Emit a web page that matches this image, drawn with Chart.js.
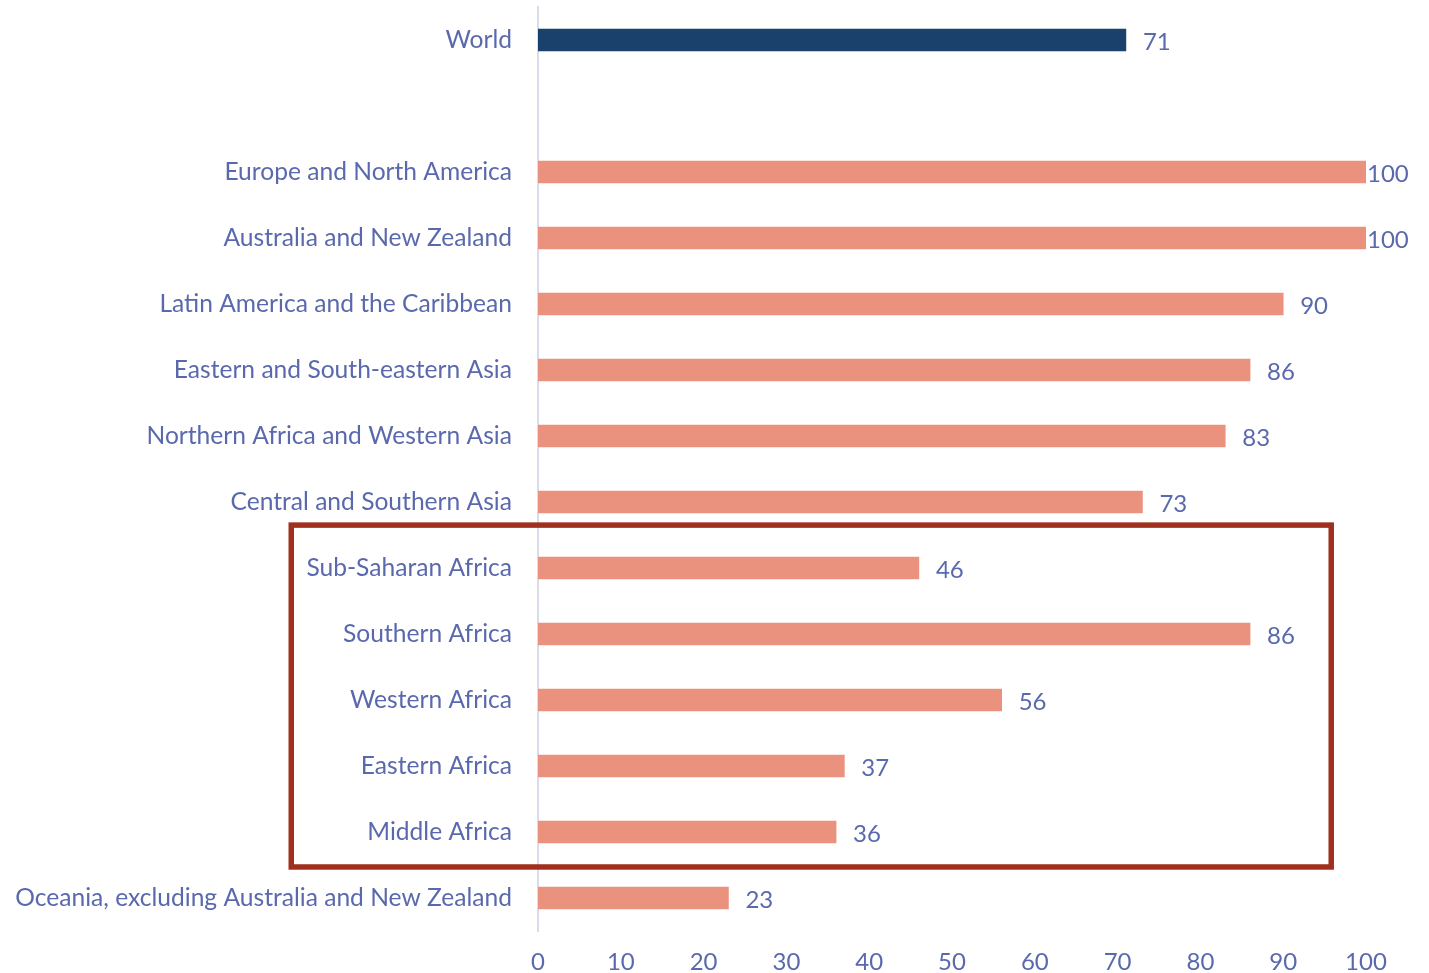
<!DOCTYPE html>
<html>
<head>
<meta charset="utf-8">
<script src="https://cdn.jsdelivr.net/npm/chart.js@4"></script>
<style>
  html, body { margin: 0; padding: 0; background: #fff; }
  #wrap { width: 1429px; height: 973px; }
</style>
</head>
<body>
<div id="wrap"><canvas id="myChart" width="1429" height="973"></canvas></div>
<script>
const regions = [
  'World', '',
  'Europe and North America', 'Australia and New Zealand',
  'Latin America and the Caribbean', 'Eastern and South-eastern Asia',
  'Northern Africa and Western Asia', 'Central and Southern Asia',
  'Sub-Saharan Africa', 'Southern Africa', 'Western Africa',
  'Eastern Africa', 'Middle Africa',
  'Oceania, excluding Australia and New Zealand'
];
const values = [71, null, 100, 100, 90, 86, 83, 73, 46, 86, 56, 37, 36, 23];
const xTicks = [0, 10, 20, 30, 40, 50, 60, 70, 80, 90, 100];
// highlighted group (Sub-Saharan Africa .. Middle Africa)
const boxFirst = 'Sub-Saharan Africa';
const boxLast = 'Middle Africa';

const textColor = '#5A69AD';
const font = { family: 'Lato', size: 24 };
const catFont = { family: 'Lato', size: 24.6 };

const barColors = regions.map((r) => (r === 'World' ? '#1A416B' : '#EA927E'));

const labelPlugin = {
  id: 'valueLabels',
  afterDatasetsDraw(chart) {
    const ctx = chart.ctx;
    const meta = chart.getDatasetMeta(0);
    ctx.save();
    ctx.font = font.size + 'px ' + font.family;
    ctx.fillStyle = textColor;
    ctx.textBaseline = 'middle';
    ctx.textAlign = 'left';
    meta.data.forEach((bar, i) => {
      if (values[i] == null) return;
      const x = Math.min(bar.x + 17, chart.chartArea.right + 1);
      ctx.fillText(String(values[i]), x, bar.y + 2);
    });
    ctx.restore();
  }
};

const boxPlugin = {
  id: 'groupBox',
  afterDraw(chart) {
    const xs = chart.scales.x;
    const ys = chart.scales.y;
    const step = ys.getPixelForValue(1) - ys.getPixelForValue(0);
    const top = ys.getPixelForValue(regions.indexOf(boxFirst)) - step * 0.65;
    const bottom = ys.getPixelForValue(regions.indexOf(boxLast)) + step * 0.53;
    const left = xs.getPixelForValue(-29.8);
    const right = xs.getPixelForValue(95.8);
    const ctx = chart.ctx;
    ctx.save();
    ctx.strokeStyle = '#A0301E';
    ctx.lineWidth = 5.5;
    ctx.strokeRect(left, top, right - left, bottom - top);
    ctx.restore();
  }
};

new Chart(document.getElementById('myChart'), {
  type: 'bar',
  data: {
    labels: regions,
    datasets: [{
      data: values,
      backgroundColor: barColors,
      barThickness: 22,
      borderWidth: 0
    }]
  },
  options: {
    indexAxis: 'y',
    responsive: false,
    animation: false,
    layout: { padding: { top: 7, right: 63, left: 0, bottom: 0 } },
    plugins: {
      legend: { display: false },
      tooltip: { enabled: false }
    },
    scales: {
      x: {
        min: 0,
        max: 100,
        afterBuildTicks: (axis) => { axis.ticks = xTicks.map((v) => ({ value: v })); },
        afterFit: (axis) => { axis.height = 42; },
        grid: { display: false, drawTicks: false },
        border: { display: false },
        ticks: { color: textColor, font: font, padding: 17, maxRotation: 0 }
      },
      y: {
        afterFit: (axis) => {
          axis.width = 538;
          axis.paddingTop = 0;
          axis.paddingBottom = 0;
        },
        grid: { display: false, drawTicks: false },
        border: { display: true, color: '#D9DCEB', width: 2 },
        ticks: { color: textColor, font: catFont, padding: 26, autoSkip: false }
      }
    }
  },
  plugins: [labelPlugin, boxPlugin]
});
</script>
</body>
</html>
